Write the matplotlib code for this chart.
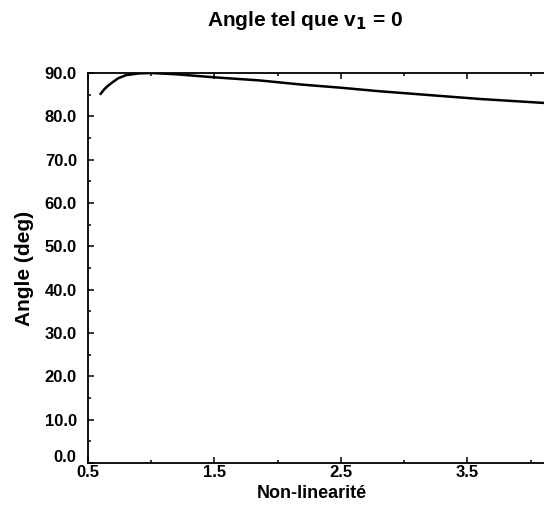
"""
plot.py - Angle tel que v1 = 0 en fonction de la non-linearite
"""

import matplotlib
matplotlib.use("Agg")
import matplotlib.pyplot as plt
from matplotlib.ticker import MultipleLocator, FuncFormatter, FormatStrFormatter

plt.rcParams["font.family"] = ["Liberation Sans", "DejaVu Sans"]
plt.rcParams["font.weight"] = "bold"

# donnees
non_linearite = [0.6, 0.63, 0.66, 0.7, 0.74, 0.8, 0.9, 1.0, 1.2, 1.5,
                 1.85, 2.2, 2.5, 2.8, 3.2, 3.6, 4.1]
angle_deg = [85.2, 86.3, 87.1, 88.0, 88.8, 89.5, 89.9, 90.0, 89.7, 89.0,
             88.3, 87.3, 86.6, 85.8, 84.9, 84.0, 83.1]

x_ticks = [0.5, 1.5, 2.5, 3.5]
y_ticks = [0, 10, 20, 30, 40, 50, 60, 70, 80, 90]

W, H = 544, 507
fig = plt.figure(figsize=(W / 100, H / 100), dpi=100)
ax = fig.add_axes([88 / W, (H - 463) / H, 1 - 88 / W, (463 - 73) / H])

ax.plot(non_linearite, angle_deg, color="black", linewidth=1.8)

ax.set_xlim(0.5, 0.5 + 456 / 126.5)
ax.set_ylim(0, 90)
ax.set_xticks(x_ticks)
ax.set_yticks(y_ticks)
ax.xaxis.set_minor_locator(MultipleLocator(0.5))
ax.yaxis.set_minor_locator(MultipleLocator(5))
ax.xaxis.set_major_formatter(FormatStrFormatter("%.1f"))
# le 0.0 est place un peu plus haut, comme sur l'original
ax.yaxis.set_major_formatter(FuncFormatter(lambda v, p: "" if v == 0 else "%.1f" % v))

ax.spines["right"].set_visible(False)
for s in ["left", "bottom", "top"]:
    ax.spines[s].set_linewidth(1.3)

ax.tick_params(which="both", direction="in", top=True, right=False,
               labelsize=12, width=1.1)
ax.tick_params(which="major", length=4)
ax.tick_params(which="minor", length=2.5)
ax.tick_params(axis="y", pad=8)
ax.tick_params(axis="x", pad=1.5)
for lab in ax.get_xticklabels() + ax.get_yticklabels():
    lab.set_fontweight("bold")

ax.annotate("0.0", xy=(0, 0), xycoords="axes fraction", xytext=(-12, 6),
            textcoords="offset pixels", ha="right", va="center",
            fontsize=12, fontweight="bold")

fig.text(305 / W, 1 - 20 / H, r"Angle tel que v$_\mathbf{1}$ = 0", ha="center",
         va="center", fontsize=15, fontweight="bold")
fig.text(312 / W, 1 - 493 / H, "Non-linearité", ha="center", va="center",
         fontsize=13, fontweight="bold")
fig.text(25 / W, 1 - 268 / H, "Angle (deg)", ha="center", va="center",
         rotation=90, fontsize=15, fontweight="bold")

fig.savefig("out.png", dpi=100)
plt.close(fig)
